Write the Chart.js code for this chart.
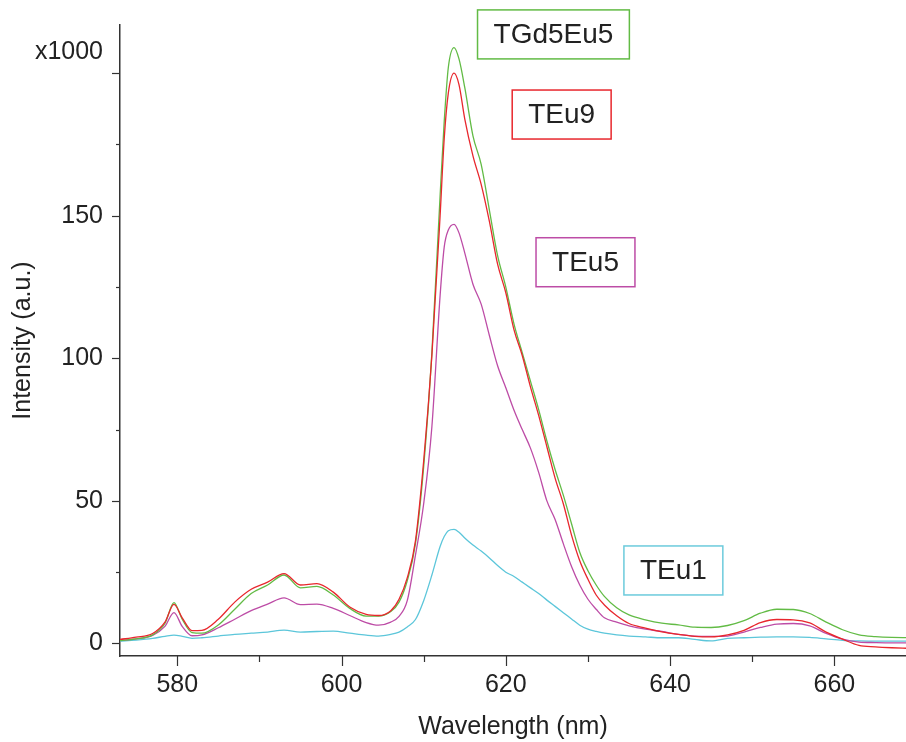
<!DOCTYPE html>
<html>
<head>
<meta charset="utf-8">
<script src="https://cdn.jsdelivr.net/npm/chart.js@4"></script>
<style>
  html, body { margin: 0; padding: 0; background: #fff; }
  #wrap { width: 906px; height: 742px; }
</style>
</head>
<body>
<div id="wrap"><canvas id="chart" width="906" height="742"></canvas></div>
<script>
// wavelength grid (nm)
const wavelengths = [573, 575, 577, 578.5, 579.6, 580.6, 581.8, 583, 585, 587,
  589, 591, 593, 595, 597, 599, 601, 603, 604.5, 606,
  607, 608, 609, 610, 611, 612, 612.5, 613, 613.7, 614.3,
  615, 616, 617, 618, 619, 620, 621, 622, 623, 624,
  625, 626, 627, 628, 629, 630, 631, 632, 633.5, 635,
  637, 639, 641, 643, 645, 647, 649, 651, 653, 655,
  657, 659, 661, 663, 665, 667, 669];

// intensities (x1000)
const tEu9 = [1.4, 2.2, 3.5, 7.5, 13.7, 9, 4.5, 4.6, 8.5, 14.5,
  19, 21.5, 24.5, 20.5, 21, 18, 12.8, 10.2, 9.8, 11.5,
  15.5, 23, 36, 64, 101, 150, 177, 193, 200, 196,
  184, 171, 161, 148, 133, 123, 110, 101, 90, 80,
  69, 58, 49, 38, 29, 22.5, 17, 13.5, 9.7, 7,
  5.4, 4.1, 3.2, 2.5, 2.3, 3.0, 4.6, 7.3, 8.4, 8.3,
  7.2, 4.0, 1.5, -0.7, -1.2, -1.5, -1.7];

const tGd5Eu5 = [1.0, 1.6, 3.0, 7, 14.3, 8.5, 3.8, 3.6, 6.5, 12,
  17.5, 20.5, 24, 19.5, 20, 17, 12.3, 9.6, 9.6, 11.2,
  14.5, 22, 35, 62, 102, 157, 183, 202, 209, 205,
  195, 178, 168, 152, 136, 125, 112, 102, 92, 82,
  71, 61, 52, 42, 32, 25.5, 20.5, 16.5, 12.5, 10,
  8.3, 7.1, 6.5, 5.7, 5.6, 6.3, 8.0, 10.6, 12.0, 11.9,
  10.5, 7.5, 4.8, 3.0, 2.4, 2.1, 2.0];

const tEu5 = [1.0, 1.6, 2.8, 6, 10.8, 6, 2.7, 3.0, 5.5, 8.5,
  11.5, 13.8, 16.0, 13.6, 13.8, 12.3, 9.8, 7.3, 6.4, 7.5,
  9.5, 15, 31, 49, 76, 122, 139, 145, 147, 144,
  137, 126, 119, 108, 97.4, 89.7, 81.8, 75, 68.5, 60,
  50, 43.5, 35, 27, 20.5, 15.5, 12, 9, 7.5, 6.2,
  5.0, 4.2, 3.2, 2.6, 2.5, 2.6, 4.0, 5.6, 6.8, 7.0,
  6.2, 3.5, 1.5, 0.5, 0.3, 0.2, 0.2];

const tEu1 = [0.8, 1.2, 1.8, 2.5, 2.9, 2.5, 1.8, 2.0, 2.6, 3.2,
  3.6, 4.0, 4.7, 4.0, 4.2, 4.3, 3.6, 2.9, 2.6, 3.2,
  4.0, 5.8, 8.4, 15, 24, 34, 37.5, 39.5, 40, 39,
  37, 34.5, 32.4, 30, 27.3, 25, 23.5, 21.5, 19.5, 17.5,
  15.2, 13, 10.8, 8.6, 6.4, 5, 4.2, 3.6, 3.0, 2.6,
  2.3, 2.0, 2.0, 1.4, 0.9, 1.8, 2.0, 2.2, 2.3, 2.3,
  2.1, 1.6, 1.1, 0.9, 0.8, 0.8, 0.8];

const xTickValues = [580, 590, 600, 610, 620, 630, 640, 650, 660];
const xTickLabels = ['580', '', '600', '', '620', '', '640', '', '660'];
const yTickValues = [0, 25, 50, 75, 100, 125, 150, 175, 200];
const yTickLabels = ['0', '', '50', '', '100', '', '150', '', ''];
const yMultiplier = 'x1000';

const FONT = "'Liberation Sans', Arial, sans-serif";
Chart.defaults.font.family = FONT;
Chart.defaults.color = '#222';

function toPoints(values) {
    return wavelengths.map((w, i) => ({ x: w, y: values[i] }));
}

// line labels, anchored in data units
const boxLabels = [
    { text: 'TGd5Eu5', x: 625.8, y: 213.6, color: '#62bb45' },
    { text: 'TEu9', x: 626.8, y: 185.5, color: '#e8272d' },
    { text: 'TEu5', x: 629.7, y: 133.7, color: '#bd4ca6' },
    { text: 'TEu1', x: 640.4, y: 25.6, color: '#6ccbdc' }
];

const tickMarks = {
    id: 'tickMarks',
    afterDraw(chart) {
        const { ctx, chartArea } = chart;
        const xs = chart.scales.x, ys = chart.scales.y;
        ctx.save();
        ctx.strokeStyle = '#333';
        ctx.lineWidth = 1.2;
        xs.ticks.forEach(t => {
            const px = Math.round(xs.getPixelForValue(t.value)) + 0.5;
            const len = t.value % 20 === 0 ? 10 : 6;
            ctx.beginPath();
            ctx.moveTo(px, chartArea.bottom);
            ctx.lineTo(px, chartArea.bottom + len);
            ctx.stroke();
        });
        ys.ticks.forEach(t => {
            const py = Math.round(ys.getPixelForValue(t.value)) + 0.5;
            const len = t.value % 50 === 0 ? 8 : 4;
            ctx.beginPath();
            ctx.moveTo(chartArea.left - len, py);
            ctx.lineTo(chartArea.left, py);
            ctx.stroke();
        });
        // multiplier above the top tick
        ctx.font = '25px ' + FONT;
        ctx.fillStyle = '#222';
        ctx.textAlign = 'right';
        ctx.textBaseline = 'middle';
        ctx.fillText(yMultiplier, chartArea.left - 17, ys.getPixelForValue(207.3));
        ctx.restore();
    }
};

const labelBoxes = {
    id: 'labelBoxes',
    afterDraw(chart) {
        const { ctx } = chart;
        const xs = chart.scales.x, ys = chart.scales.y;
        ctx.save();
        ctx.font = '28px ' + FONT;
        ctx.textAlign = 'center';
        ctx.textBaseline = 'middle';
        boxLabels.forEach(b => {
            const cx = xs.getPixelForValue(b.x);
            const cy = ys.getPixelForValue(b.y);
            const w = ctx.measureText(b.text).width + 32;
            const h = 49;
            ctx.fillStyle = '#fff';
            ctx.fillRect(cx - w / 2, cy - h / 2, w, h);
            ctx.strokeStyle = b.color;
            ctx.lineWidth = 1.5;
            ctx.strokeRect(cx - w / 2, cy - h / 2, w, h);
            ctx.fillStyle = '#222';
            ctx.fillText(b.text, cx, cy + 1);
        });
        ctx.restore();
    }
};

const ctx = document.getElementById('chart').getContext('2d');
new Chart(ctx, {
    type: 'line',
    data: {
        datasets: [
            { label: 'TEu9', data: toPoints(tEu9), borderColor: '#e8272d' },
            { label: 'TGd5Eu5', data: toPoints(tGd5Eu5), borderColor: '#62bb45' },
            { label: 'TEu5', data: toPoints(tEu5), borderColor: '#bd4ca6' },
            { label: 'TEu1', data: toPoints(tEu1), borderColor: '#5cc6da' }
        ]
    },
    options: {
        responsive: false,
        animation: false,
        layout: { padding: { top: 25, right: 0, left: 0, bottom: 0 } },
        plugins: { legend: { display: false }, tooltip: { enabled: false } },
        elements: {
            point: { radius: 0 },
            line: { borderWidth: 1.3, cubicInterpolationMode: 'monotone', fill: false }
        },
        scales: {
            x: {
                type: 'linear',
                min: 573.03,
                max: 668.72,
                afterBuildTicks: s => { s.ticks = xTickValues.map(v => ({ value: v })); },
                afterFit: s => { s.height = 86; s.paddingLeft = 0; s.paddingRight = 0; },
                ticks: {
                    autoSkip: false, maxRotation: 0, padding: 14,
                    font: { size: 25 }, color: '#222',
                    callback: (v, i) => xTickLabels[i]
                },
                grid: { display: true, drawOnChartArea: false, drawTicks: false },
                border: { display: true, color: '#333', width: 1.5 },
                title: {
                    display: true, text: 'Wavelength (nm)', color: '#222',
                    font: { size: 25 }, padding: { top: 0, bottom: 0 }
                }
            },
            y: {
                type: 'linear',
                min: -4.4,
                max: 216.9,
                afterBuildTicks: s => { s.ticks = yTickValues.map(v => ({ value: v })); },
                afterFit: s => { s.width = 120; s.paddingTop = 0; s.paddingBottom = 0; },
                ticks: {
                    autoSkip: false, padding: 17,
                    font: { size: 25 }, color: '#222',
                    callback: (v, i) => yTickLabels[i]
                },
                grid: { display: true, drawOnChartArea: false, drawTicks: false },
                border: { display: true, color: '#333', width: 1.5 },
                title: {
                    display: true, text: 'Intensity (a.u.)', color: '#222',
                    font: { size: 25 }, padding: { top: 8, bottom: 0 }
                }
            }
        }
    },
    plugins: [tickMarks, labelBoxes]
});
</script>
</body>
</html>
